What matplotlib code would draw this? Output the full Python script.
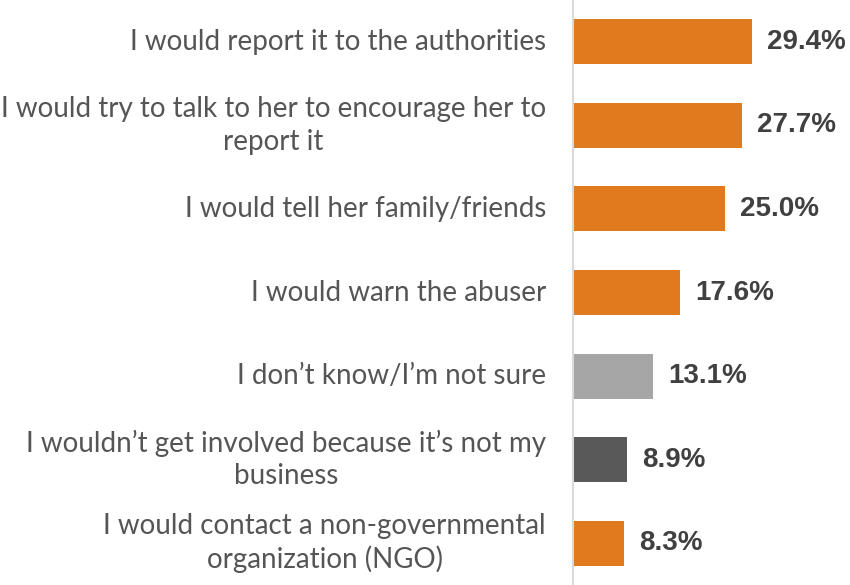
import matplotlib.pyplot as plt

# survey answers, top to bottom
labels = [
    "I would report it to the authorities",
    "I would try to talk to her to encourage her to\nreport it",
    "I would tell her family/friends",
    "I would warn the abuser",
    "I don\u2019t know/I\u2019m not sure",
    "I wouldn\u2019t get involved because it\u2019s not my\nbusiness",
    "I would contact a non-governmental\norganization (NGO)",
]
values = [29.4, 27.7, 25.0, 17.6, 13.1, 8.9, 8.3]
colors = ["#E07A1F", "#E07A1F", "#E07A1F", "#E07A1F", "#A6A6A6", "#595959", "#E07A1F"]

fig = plt.figure(figsize=(8.5, 5.85), dpi=100)
ax = fig.add_axes([573 / 850, 0.0, 277 / 850, 1.0])

y = list(range(len(values)))
ax.barh(y, values, height=0.54, color=colors)
ax.set_ylim(len(values) - 0.5, -0.5)
ax.set_xlim(0, 45.5)

for yi, v in zip(y, values):
    ax.text(v + 2.5, yi, f"{v:.1f}%", va="center", ha="left",
            fontsize=20, fontweight="bold", color="#404040",
            family="Liberation Sans")

for yi, lab in zip(y, labels):
    ax.annotate(lab, xy=(0, yi), xycoords="data", xytext=(-19.5, 0),
                textcoords="offset points", ha="right", va="center",
                multialignment="center", fontsize=20, color="#555555",
                family="Lato", linespacing=1.3)

ax.set_xticks([])
ax.set_yticks([])
for side in ["top", "right", "bottom"]:
    ax.spines[side].set_visible(False)
ax.spines["left"].set_color("#D9D9D9")
ax.spines["left"].set_linewidth(1.5)

fig.savefig("out.png", dpi=100)
